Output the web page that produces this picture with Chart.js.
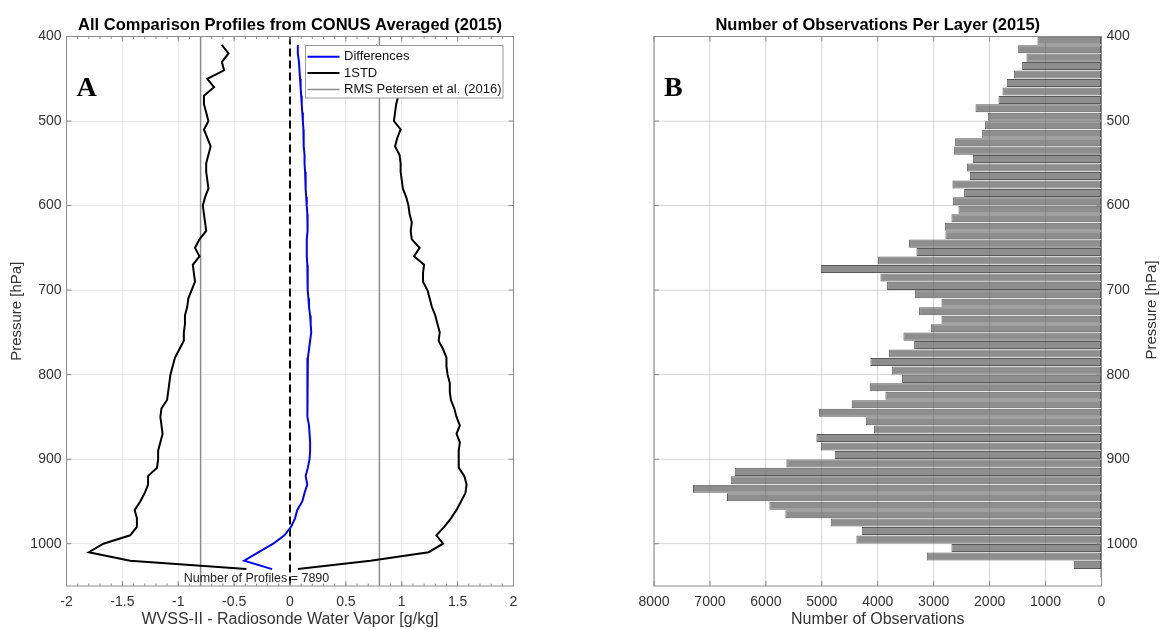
<!DOCTYPE html>
<html><head><meta charset="utf-8">
<script src="https://cdn.jsdelivr.net/npm/chart.js@4"></script>
<style>
html,body{margin:0;padding:0;background:#fff;width:1161px;height:629px;overflow:hidden}
#c1{position:absolute;left:0;top:0;width:580px;height:629px}
#c2{position:absolute;left:580px;top:0;width:581px;height:629px}
</style></head><body>
<canvas id="c1" width="580" height="629"></canvas>
<canvas id="c2" width="581" height="629"></canvas>
<script>
// ---------- DATA ----------
const profilePressure = [410,420,430,440,450,460,470,480,490,500,510,520,530,540,550,560,570,580,590,600,610,620,630,640,650,660,670,680,690,700,710,720,730,740,750,760,770,780,790,800,810,820,830,840,850,860,870,880,890,900,910,920,930,940,950,960,970,980,990,1000,1010,1020,1030];
const meanDifference = [0.07,0.07,0.08,0.085,0.09,0.095,0.10,0.105,0.11,0.115,
  0.12,0.12,0.125,0.13,0.13,0.135,0.14,0.14,0.145,0.15,
  0.155,0.16,0.155,0.15,0.15,0.15,0.155,0.155,0.16,0.16,
  0.165,0.17,0.18,0.185,0.19,0.18,0.17,0.16,0.155,0.155,
  0.155,0.155,0.155,0.155,0.16,0.17,0.175,0.18,0.18,0.175,
  0.16,0.14,0.155,0.13,0.11,0.065,0.045,0.01,-0.05,-0.15,
  -0.28,-0.41,-0.16];
const stdLower = [-0.61,-0.55,-0.61,-0.59,-0.74,-0.68,-0.77,-0.77,-0.75,-0.73,
  -0.77,-0.74,-0.71,-0.73,-0.75,-0.75,-0.74,-0.73,-0.76,-0.78,
  -0.77,-0.76,-0.75,-0.81,-0.85,-0.81,-0.87,-0.86,-0.85,-0.88,
  -0.91,-0.92,-0.94,-0.94,-0.95,-0.95,-0.99,-1.03,-1.05,-1.07,
  -1.08,-1.09,-1.10,-1.15,-1.16,-1.15,-1.14,-1.16,-1.18,-1.18,
  -1.19,-1.27,-1.27,-1.30,-1.34,-1.39,-1.37,-1.37,-1.43,-1.67,
  -1.80,-1.43,-0.39];
const stdUpper = [0.77,0.85,0.88,0.92,0.95,0.97,0.97,0.95,0.94,0.93,
  0.99,0.96,0.94,0.98,0.99,0.99,1.00,1.01,1.04,1.06,
  1.07,1.09,1.08,1.09,1.16,1.11,1.20,1.19,1.19,1.23,
  1.25,1.27,1.30,1.32,1.34,1.33,1.37,1.40,1.40,1.41,
  1.43,1.43,1.44,1.47,1.49,1.52,1.49,1.52,1.51,1.51,
  1.51,1.56,1.58,1.57,1.53,1.49,1.44,1.38,1.31,1.37,
  1.24,0.72,0.07];
const rmsPetersen = 0.8;
const profileCount = 7890;

const layerPressure = [405,415,425,435,445,455,465,475,485,495,505,515,525,535,545,555,565,575,585,595,605,615,625,635,645,655,665,675,685,695,705,715,725,735,745,755,765,775,785,795,805,815,825,835,845,855,865,875,885,895,905,915,925,935,945,955,965,975,985,995,1005,1015,1025,1035];
const layerObservations = [1145,1490,1341,1419,1568,1693,1770,1842,2253,2033,
  2086,2134,2617,2635,2301,2408,2355,2665,2456,2653,
  2557,2683,2802,2790,3440,3308,3994,5019,3952,3833,
  3338,2861,3261,2861,3052,3541,3350,3797,4131,3750,
  3565,4143,3863,4465,5049,4215,4066,5097,5019,4769,
  5633,6557,6629,7303,6695,5937,5651,4841,4286,4382,
  2683,3124,495,20];

const pressureTicks = [400,500,600,700,800,900,1000];
const differenceTicks = [-2,-1.5,-1,-0.5,0,0.5,1,1.5,2];
const observationTicks = [0,1000,2000,3000,4000,5000,6000,7000,8000];
const pressureRange = [400,1050];
const differenceRange = [-2,2];
const observationRange = [0,8000];

// ---------- STYLE ----------
const FONT = "'Liberation Sans', Arial, Helvetica, sans-serif";
const AXIS_COL = '#8c8c8c';
const TEXT_COL = '#333333';
const GRID_COL = '#e9e9e9';

function setTicks(list){ return function(scale){ scale.ticks = list.map(v=>({value:v})); }; }

const framePlugin = {
  id: 'frame',
  afterDatasetsDraw(chart, args, o) {
    const {ctx, chartArea: a, scales} = chart;
    const xs = scales.x, ys = scales.y;
    ctx.save();
    if (o.gridOnTop) {
      ctx.strokeStyle = 'rgba(0,0,0,0.09)'; ctx.lineWidth = 1;
      ctx.beginPath();
      xs.ticks.forEach(t => { const px = xs.getPixelForValue(t.value); ctx.moveTo(px, a.top); ctx.lineTo(px, a.bottom); });
      ys.ticks.forEach(t => { const py = ys.getPixelForValue(t.value); ctx.moveTo(a.left, py); ctx.lineTo(a.right, py); });
      ctx.stroke();
    }
    ctx.strokeStyle = AXIS_COL; ctx.lineWidth = 1;
    ctx.beginPath();
    xs.ticks.forEach(t => { const px = xs.getPixelForValue(t.value);
      ctx.moveTo(px, a.bottom); ctx.lineTo(px, a.bottom - 5);
      ctx.moveTo(px, a.top); ctx.lineTo(px, a.top + 5); });
    ys.ticks.forEach(t => { const py = ys.getPixelForValue(t.value);
      ctx.moveTo(a.left, py); ctx.lineTo(a.left + 5, py);
      ctx.moveTo(a.right, py); ctx.lineTo(a.right - 5, py); });
    if (o.minorStep) {
      const [lo, hi] = [xs.min, xs.max];
      const n = Math.round((hi - lo) / o.minorStep);
      for (let i = 0; i <= n; i++) {
        const px = xs.getPixelForValue(lo + i * o.minorStep);
        ctx.moveTo(px, a.bottom); ctx.lineTo(px, a.bottom - 2.5);
        ctx.moveTo(px, a.top); ctx.lineTo(px, a.top + 2.5);
      }
    }
    ctx.stroke();
    ctx.strokeRect(a.left, a.top, a.right - a.left, a.bottom - a.top);
    ctx.restore();
  },
  afterDraw(chart, args, o) {
    const {ctx, chartArea: a} = chart;
    ctx.save();
    ctx.fillStyle = '#000';
    ctx.font = "bold 16.5px " + FONT;
    ctx.textAlign = 'center'; ctx.textBaseline = 'alphabetic';
    ctx.fillText(o.title, (a.left + a.right) / 2, 29.5);
    ctx.font = "bold 28px 'Liberation Serif', 'Times New Roman', serif";
    ctx.textAlign = 'left';
    ctx.fillText(o.letter, a.left + 10, 95.5);
    if (o.drawExtra) o.drawExtra(chart);
    ctx.restore();
  }
};

// ---------- LEFT CHART ----------
function pts(xs){ return xs.map((v,i)=>({x:v, y:profilePressure[i]})); }

const legendItems = [
  {label:'Differences', color:'#0000ff', width:2},
  {label:'1STD', color:'#000000', width:2},
  {label:'RMS Petersen et al. (2016)', color:'#8c8c8c', width:1.5}
];

new Chart(document.getElementById('c1'), {
  type: 'scatter',
  data: { datasets: [
    {data: pts(meanDifference), borderColor:'#0000ff', borderWidth:2, showLine:true, pointRadius:0, tension:0},
    {data: pts(stdLower), borderColor:'#000', borderWidth:2, showLine:true, pointRadius:0, tension:0},
    {data: pts(stdUpper), borderColor:'#000', borderWidth:2, showLine:true, pointRadius:0, tension:0},
    {data: [{x:0,y:pressureRange[0]},{x:0,y:pressureRange[1]}], borderColor:'#000', borderWidth:2, borderDash:[8,4], showLine:true, pointRadius:0},
    {data: [{x:-rmsPetersen,y:pressureRange[0]},{x:-rmsPetersen,y:pressureRange[1]}], borderColor:'#8c8c8c', borderWidth:1.5, showLine:true, pointRadius:0},
    {data: [{x:rmsPetersen,y:pressureRange[0]},{x:rmsPetersen,y:pressureRange[1]}], borderColor:'#8c8c8c', borderWidth:1.5, showLine:true, pointRadius:0}
  ]},
  options: {
    responsive:false, animation:false, devicePixelRatio:1,
    layout:{padding:{left:0, right:66.5, top:36.5, bottom:0}},
    plugins:{ legend:{display:false}, tooltip:{enabled:false},
      frame:{ title:'All Comparison Profiles from CONUS Averaged (2015)', letter:'A', minorStep:0.1,
        drawExtra(chart){
          const ctx = chart.ctx, xs = chart.scales.x, ys = chart.scales.y;
          ctx.font = "12.5px " + FONT; ctx.fillStyle = '#222'; ctx.textAlign = 'center'; ctx.textBaseline='middle';
          ctx.fillText('Number of Profiles = ' + profileCount, xs.getPixelForValue(-0.3), 579);
          // legend
          ctx.fillStyle = '#fff'; ctx.strokeStyle = '#999'; ctx.lineWidth = 1;
          ctx.fillRect(305.5, 45.5, 197.5, 52.5); ctx.strokeRect(305.5, 45.5, 197.5, 52.5);
          ctx.font = "13px " + FONT; ctx.textAlign='left'; ctx.textBaseline='middle';
          legendItems.forEach((it,i)=>{
            const y = 56.8 + i*16.3;
            ctx.strokeStyle = it.color; ctx.lineWidth = it.width;
            ctx.beginPath(); ctx.moveTo(307.5,y); ctx.lineTo(339.5,y); ctx.stroke();
            ctx.fillStyle = '#111'; ctx.fillText(it.label, 344, y);
          });
        }
      }
    },
    scales:{
      x:{ type:'linear', min:differenceRange[0], max:differenceRange[1], afterBuildTicks:setTicks(differenceTicks),
        afterFit(s){ s.height = 43; },
        grid:{color:GRID_COL, drawTicks:false}, border:{display:false},
        ticks:{font:{family:FONT,size:14}, color:TEXT_COL, padding:8, maxRotation:0, callback:v=>String(v)},
        title:{display:true, text:'WVSS-II - Radiosonde Water Vapor [g/kg]', font:{family:FONT,size:16}, color:TEXT_COL, padding:{top:0,bottom:0}}
      },
      y:{ type:'linear', reverse:true, min:pressureRange[0], max:pressureRange[1], afterBuildTicks:setTicks(pressureTicks),
        afterFit(s){ s.width = 66.5; },
        grid:{color:GRID_COL, drawTicks:false}, border:{display:false},
        ticks:{font:{family:FONT,size:14}, color:TEXT_COL, padding:5, callback:v=>String(v)},
        title:{display:true, text:'Pressure [hPa]', font:{family:FONT,size:15}, color:TEXT_COL, padding:{top:8,bottom:0}}
      }
    }
  },
  plugins:[framePlugin]
});

// ---------- RIGHT CHART ----------
new Chart(document.getElementById('c2'), {
  type: 'bar',
  data: { datasets: [{
    data: layerObservations.map((v,i)=>({x:v, y:layerPressure[i]})),
    backgroundColor:'#8e8e8e', borderColor:'#5a5a5a', borderWidth:1, borderSkipped:false,
    barPercentage:0.95, categoryPercentage:1
  }]},
  options: {
    indexAxis:'y',
    responsive:false, animation:false, devicePixelRatio:1,
    layout:{padding:{left:74, right:0, top:36.5, bottom:0}},
    plugins:{ legend:{display:false}, tooltip:{enabled:false},
      frame:{ title:'Number of Observations Per Layer (2015)', letter:'B', gridOnTop:true,
        drawExtra(chart){
          const ctx = chart.ctx;
          ctx.save();
          ctx.translate(572, 310);
          ctx.rotate(-Math.PI/2);
          ctx.font = "15px " + FONT; ctx.fillStyle = TEXT_COL; ctx.textAlign='center'; ctx.textBaseline='middle';
          ctx.fillText('Pressure [hPa]', 0, 0);
          ctx.restore();
        }
      }
    },
    scales:{
      x:{ type:'linear', reverse:true, min:observationRange[0], max:observationRange[1], afterBuildTicks:setTicks(observationTicks),
        afterFit(s){ s.height = 43; },
        grid:{color:GRID_COL, drawTicks:false}, border:{display:false},
        ticks:{font:{family:FONT,size:14}, color:TEXT_COL, padding:8, maxRotation:0, callback:v=>String(v)},
        title:{display:true, text:'Number of Observations', font:{family:FONT,size:16}, color:TEXT_COL, padding:{top:0,bottom:0}}
      },
      y:{ type:'linear', position:'right', reverse:true, offset:false, min:pressureRange[0], max:pressureRange[1], afterBuildTicks:setTicks(pressureTicks),
        afterFit(s){ s.width = 59.5; },
        grid:{color:GRID_COL, drawTicks:false, offset:false}, border:{display:false},
        ticks:{font:{family:FONT,size:14}, color:TEXT_COL, padding:5, callback:v=>String(v)},
        title:{display:false}
      }
    }
  },
  plugins:[framePlugin]
});
</script>
</body></html>
